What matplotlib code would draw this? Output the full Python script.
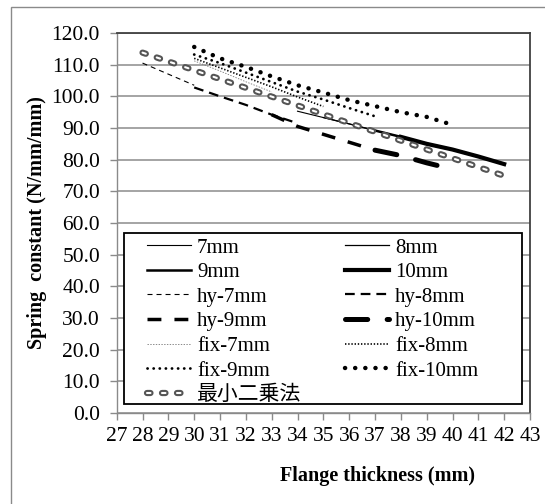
import numpy as np
import matplotlib
matplotlib.use('Agg')
import matplotlib.pyplot as plt
import matplotlib.patheffects as pe
from matplotlib.font_manager import FontProperties
from matplotlib.patches import Rectangle

# measured data (flange thickness mm -> spring constant N/mm/mm)
x_7mm = [34, 35, 36, 37]
y_7mm = [95.3, 93.3, 91.3, 89.2]
x_8mm = [35, 36, 37, 38, 39]
y_8mm = [93.3, 91.3, 89.2, 87.2, 85.0]
x_9mm = [37, 38, 39, 40, 41]
y_9mm = [89.2, 87.2, 85.0, 83.2, 81.0]
x_10mm = [38, 39, 40, 41, 42]
y_10mm = [87.2, 85.0, 83.2, 81.0, 78.6]

x_hy7 = [28, 29, 30]
y_hy7 = [110.5, 107.0, 103.5]
x_hy8 = [30, 31, 32, 33, 34]
y_hy8 = [102.8, 100.0, 97.3, 94.2, 91.5]
x_hy9 = [33, 34, 35, 36, 37]
y_hy9 = [94.2, 90.5, 88.0, 85.5, 83.0]
x_hy10 = [37, 38, 39, 40]
y_hy10 = [83.0, 81.3, 79.0, 77.0]

x_fix7 = [30, 31, 32, 33]
y_fix7 = [111.2, 108.0, 104.6, 101.4]
x_fix8 = [30, 31, 32, 33, 34, 35]
y_fix8 = [112.0, 109.0, 106.0, 103.0, 99.8, 96.8]
x_fix9 = [30, 31, 32, 33, 34, 35, 36, 37]
y_fix9 = [113.2, 110.5, 107.5, 104.5, 101.5, 99.0, 96.3, 93.7]
x_fix10 = [30, 31, 32, 33, 34, 35, 36, 37, 38, 39, 40]
y_fix10 = [115.6, 112.0, 109.3, 106.3, 103.5, 101.2, 98.8, 96.9, 95.0, 93.5, 91.0]

x_lsq = [28, 42]
y_lsq = [113.8, 74.9]

xticks = list(range(27, 44))
yticks = list(range(0, 121, 10))

plt.rcParams['font.family'] = ['Liberation Serif', 'Noto Sans CJK JP']
plt.rcParams['lines.scale_dashes'] = False

W, H = 545, 504
fig = plt.figure(figsize=(W / 100, H / 100), dpi=100)
ax = fig.add_axes([116.7 / W, 1 - 413 / H, (530 - 116.7) / W, (413 - 33) / H])

# outer chart frame (only top/left visible)
fig.add_artist(Rectangle((10.5 / W, -0.1), 1.2, 1 - 7.3 / H + 0.1,
                         transform=fig.transFigure, fill=False,
                         edgecolor='#8a8a8a', lw=1.0))

ax.plot(x_7mm, y_7mm, color='k', lw=0.8, label='7mm')
ax.plot(x_8mm, y_8mm, color='k', lw=0.9, label='8mm')
ax.plot(x_9mm, y_9mm, color='k', lw=1.8, label='9mm')
ax.plot(x_10mm, y_10mm, color='k', lw=3.0, label='10mm')

ax.plot(x_hy7, y_hy7, color='k', lw=0.8, linestyle=(0, (3.6, 2.9)), label='hy-7mm')
ax.plot(x_hy8, y_hy8, color='k', lw=1.6, linestyle=(0, (7, 4.3)), label='hy-8mm')
ax.plot(x_hy9, y_hy9, color='k', lw=2.5, linestyle=(0, (10, 9.4)), label='hy-9mm')
ax.plot(x_hy10, y_hy10, color='k', lw=3.6, linestyle=(0, (16, 14)),
        dash_capstyle='round', label='hy-10mm')

ax.plot(x_fix7, y_fix7, color='#777777', lw=0.6, linestyle=(0, (1, 1)), label='fix-7mm')
ax.plot(x_fix8, y_fix8, color='k', lw=1.2, linestyle=(0, (1, 1.3)), label='fix-8mm')
ax.plot(x_fix9, y_fix9, color='k', lw=2.0, linestyle=(0, (0.1, 4.3)),
        dash_capstyle='round', label='fix-9mm')
ax.plot(x_fix10, y_fix10, color='k', lw=3.2, linestyle=(0, (0.1, 7.2)),
        dash_capstyle='round', label='fix-10mm')

ax.plot(x_lsq, y_lsq, color='white', lw=1.5, linestyle=(0, (2.5, 8.3)),
        dash_capstyle='round', label='最小二乗法',
        path_effects=[pe.Stroke(linewidth=4.5, foreground='#555555'), pe.Normal()])

ax.set_xlim(27, 43)
ax.set_ylim(0, 120)
ax.set_xticks(xticks)
ax.set_yticks(yticks)
ax.set_yticklabels(['%.1f' % v for v in yticks])
ax.tick_params(axis='both', direction='out', length=5, width=1, color='#8a8a8a',
               labelsize=15.5)
ax.tick_params(axis='y', pad=7)
ax.tick_params(axis='x', pad=5)
ax.grid(axis='y', color='#8c8c8c', lw=1.1)
ax.set_axisbelow(True)
for s in ['top', 'right']:
    ax.spines[s].set_color('#404040')
    ax.spines[s].set_linewidth(1.3)
for s in ['left', 'bottom']:
    ax.spines[s].set_color('#8a8a8a')
    ax.spines[s].set_linewidth(1.0)

ax.set_xlabel('Flange thickness (mm)', fontsize=14.5, fontweight='bold')
ax.xaxis.set_label_coords(0.631, -0.14)
ax.set_ylabel('Spring  constant (N/mm/mm)', fontsize=14.5, fontweight='bold')
ax.yaxis.set_label_coords(-0.169, 0.5)

# legend box drawn separately so its size matches the original
ax.add_artist(Rectangle((124 / W, 1 - 404 / H), (522 - 124) / W, (404 - 233) / H,
                        transform=fig.transFigure, facecolor='white',
                        edgecolor='k', lw=1.3, zorder=4.9, clip_on=False))

handles, labels = ax.get_legend_handles_labels()
order = list(range(0, 13, 2)) + list(range(1, 13, 2))
leg = ax.legend([handles[i] for i in order], [labels[i] for i in order],
                ncol=2, loc='upper left',
                bbox_to_anchor=(147 / W, 1 - 238 / H),
                bbox_transform=fig.transFigure, borderaxespad=0, borderpad=0,
                prop=FontProperties(family=['Liberation Serif', 'Noto Sans CJK JP'], size=15),
                handlelength=2.1, handletextpad=0.3, labelspacing=0.24,
                columnspacing=2.1, frameon=False)
leg.set_zorder(5)

fig.savefig('out.png', dpi=100)
